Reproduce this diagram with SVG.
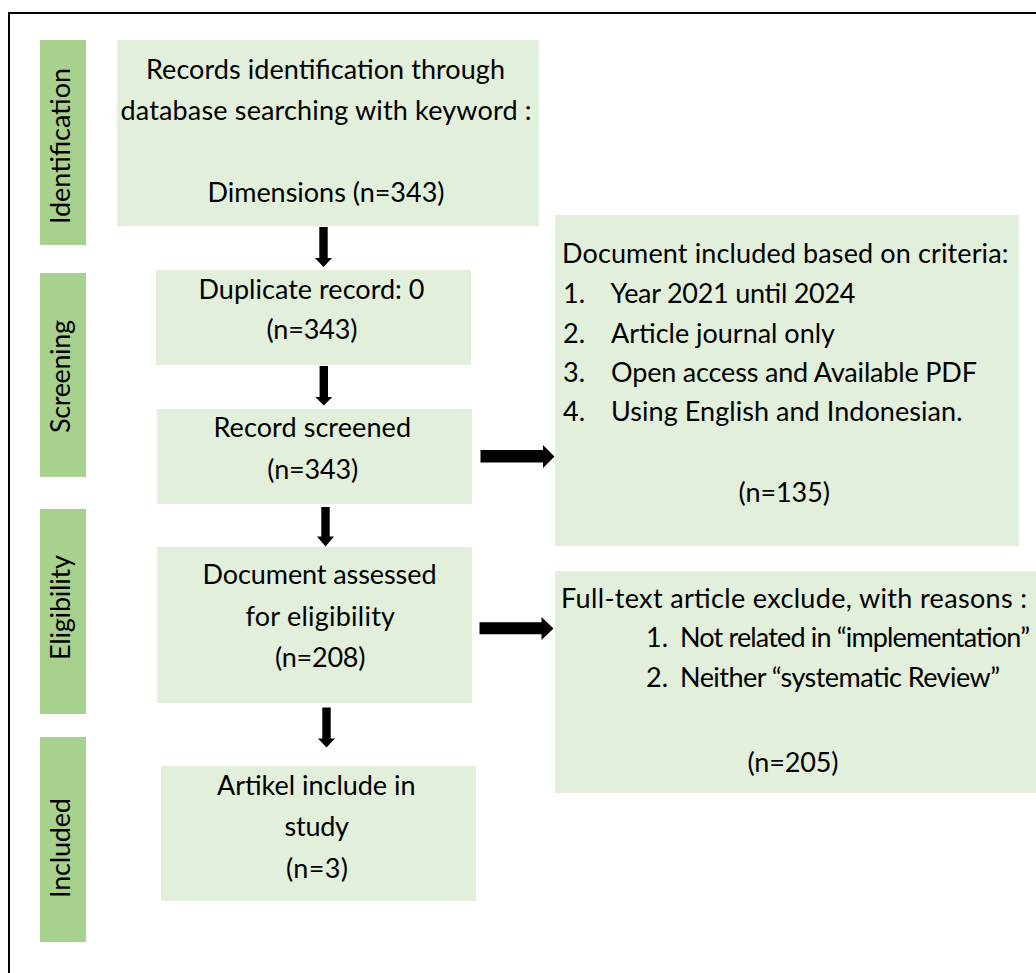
<svg xmlns="http://www.w3.org/2000/svg" width="1036" height="973" viewBox="0 0 1036 973">
<style>
.bar{fill:#A9D18E}
.box{fill:#E2EFDA}
text{font-family:Lato,"Liberation Sans",sans-serif;font-size:27px;fill:#000}
.arrow{fill:#000}
.frame{fill:none;stroke:#000;stroke-width:2}
</style>
<rect width="1036" height="973" fill="#fff"/>
<path class="frame" d="M9,973V13H1036"/>

<g id="stage-identification">
<rect class="bar" x="40" y="40" width="46" height="205"/>
<text transform="translate(70,224) rotate(-90)" textLength="156">Identification</text>
</g>
<g id="stage-screening">
<rect class="bar" x="40" y="273" width="46" height="204"/>
<text transform="translate(70,433) rotate(-90)" textLength="113">Screening</text>
</g>
<g id="stage-eligibility">
<rect class="bar" x="40" y="509" width="46" height="205"/>
<text transform="translate(70,660) rotate(-90)" textLength="105">Eligibility</text>
</g>
<g id="stage-included">
<rect class="bar" x="40" y="737" width="46" height="205"/>
<text transform="translate(70,898) rotate(-90)" textLength="100">Included</text>
</g>

<g id="records-identification">
<rect class="box" x="117" y="40" width="422" height="186"/>
<text x="146" y="79" textLength="359">Records identification through</text>
<text x="120.5" y="119.5" textLength="411">database searching with keyword :</text>
<text x="207.5" y="201.5" textLength="237">Dimensions (n=343)</text>
</g>
<g id="duplicate-record">
<rect class="box" x="156" y="270" width="315" height="95"/>
<text x="198.5" y="299" textLength="226">Duplicate record: 0</text>
<text x="266.5" y="339.3" textLength="91">(n=343)</text>
</g>
<g id="record-screened">
<rect class="box" x="157" y="409" width="315" height="95"/>
<text x="213.5" y="437.3" textLength="197.5">Record screened</text>
<text x="267.3" y="479.3" textLength="91">(n=343)</text>
</g>
<g id="document-assessed">
<rect class="box" x="157" y="547" width="315" height="156"/>
<text x="202.5" y="584" textLength="234">Document assessed</text>
<text x="245.5" y="625.7" textLength="149.5">for eligibility</text>
<text x="275" y="666.7" textLength="90.5">(n=208)</text>
</g>
<g id="artikel-include">
<rect class="box" x="161" y="766" width="315" height="135"/>
<text x="217" y="795" textLength="198.5">Artikel include in</text>
<text x="284.5" y="836" textLength="64.5">study</text>
<text x="286" y="878.3" textLength="62">(n=3)</text>
</g>
<g id="document-included-criteria">
<rect class="box" x="555" y="215" width="464" height="331"/>
<text x="562" y="263.3" textLength="446.5">Document included based on criteria:</text>
<text x="563" y="303.3">1.</text><text x="610.5" y="303.3" textLength="245">Year 2021 until 2024</text>
<text x="563" y="342.7">2.</text><text x="611" y="342.7" textLength="224">Article journal only</text>
<text x="563" y="381.7">3.</text><text x="611" y="381.7" textLength="366">Open access and Available PDF</text>
<text x="563" y="420.7">4.</text><text x="611" y="420.7" textLength="351.5">Using English and Indonesian.</text>
<text x="738.5" y="501.7" textLength="91.5">(n=135)</text>
</g>
<g id="fulltext-excluded">
<rect class="box" x="555" y="571" width="481" height="222"/>
<text x="561" y="607.5" textLength="466">Full-text article exclude, with reasons :</text>
<text x="646" y="646.7">1.</text><text x="680" y="646.7" textLength="350">Not related in “implementation”</text>
<text x="646" y="686.7">2.</text><text x="680" y="686.7" textLength="320">Neither “systematic Review”</text>
<text x="747.5" y="772" textLength="91">(n=205)</text>
</g>

<g id="connectors">
<polygon class="arrow" points="319.3,227 327.7,227 327.7,258 332,258 323.5,267 315,258 319.3,258"/>
<polygon class="arrow" points="319.6,366 328,366 328,397 332.3,397 323.8,405.5 315.3,397 319.6,397"/>
<polygon class="arrow" points="321.3,507 329.7,507 329.7,536.5 334,536.5 325.5,546.5 317,536.5 321.3,536.5"/>
<polygon class="arrow" points="322.3,707.5 330.7,707.5 330.7,738.5 335,738.5 326.5,747.5 318,738.5 322.3,738.5"/>
<polygon class="arrow" points="480.5,450 543,450 543,445 554.5,456.5 543,468 543,462.5 480.5,462.5"/>
<polygon class="arrow" points="479.5,622.3 541.5,622.3 541.5,617 553.5,628.5 541.5,640 541.5,634.3 479.5,634.3"/>
</g>
</svg>
